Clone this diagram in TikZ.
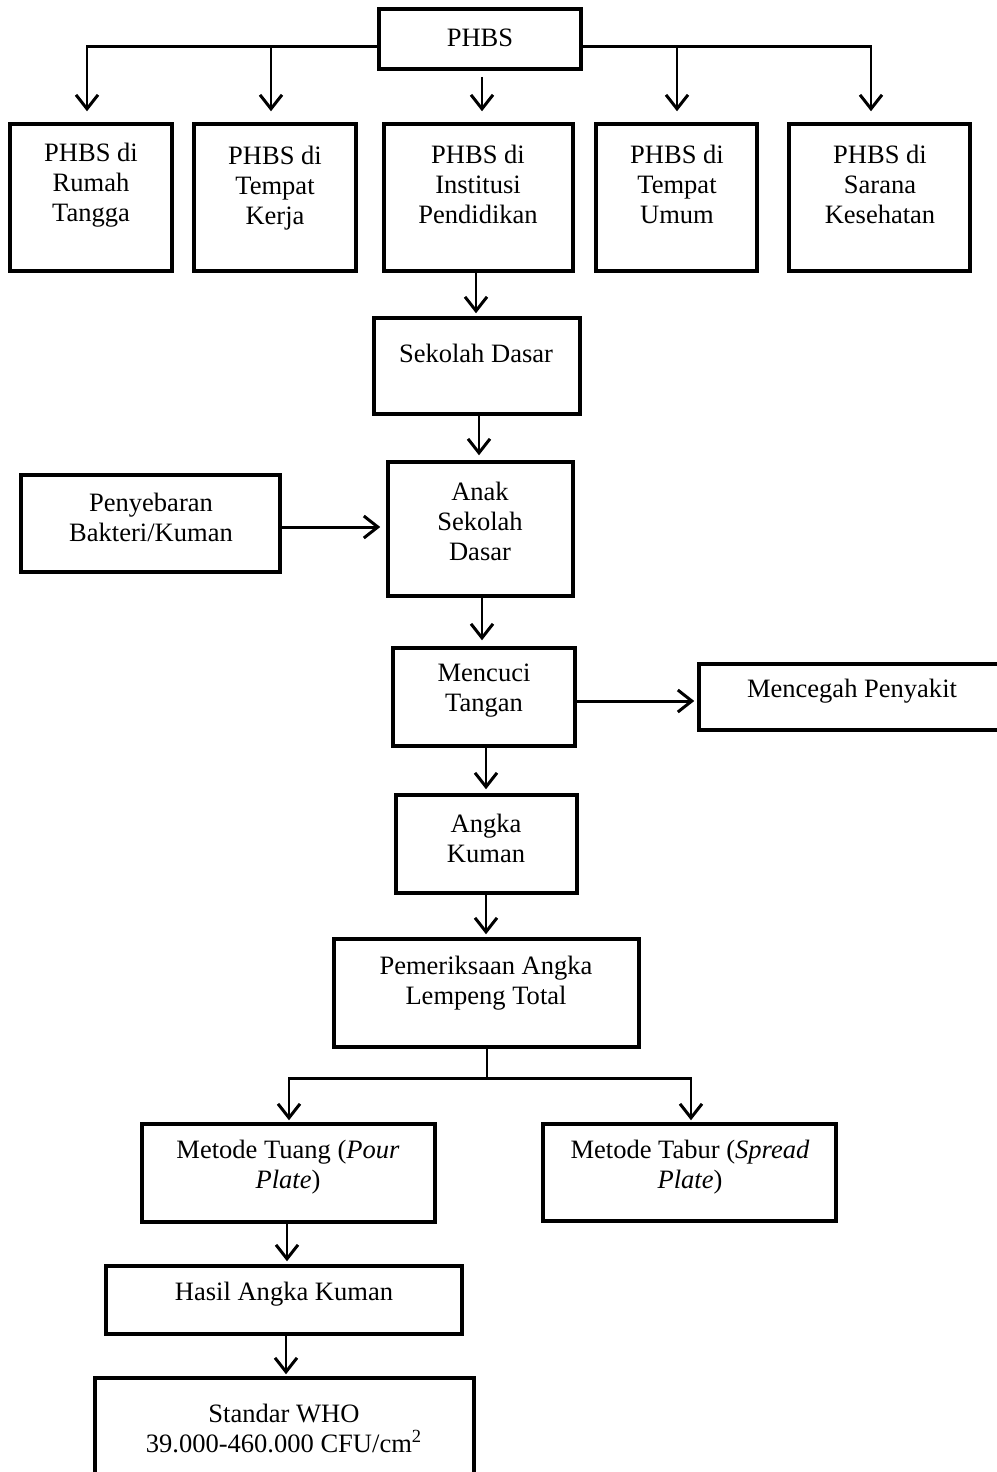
\documentclass[tikz,border=0pt]{standalone}
\usepackage{fontspec}
\setmainfont{Liberation Serif}
\usetikzlibrary{arrows.meta,calc}
\newcommand\mkbox[5]{\node[box, minimum width={(#4-#2)*0.02cm}, minimum height={(#5-#3)*0.02cm}] (#1) at ({(#2+#4)/2},{(#3+#5)/2}) {};}
\begin{document}
\begin{tikzpicture}[x=0.02cm,y=-0.02cm,
  box/.style={draw, line width=2pt, inner sep=0pt},
  txt/.style={align=center, font=\fontsize{15.1pt}{17.1pt}\selectfont, inner sep=0pt},
  arr/.style={line width=1.7pt, -{Straight Barb[length=2.8mm,width=4.4mm]}},
  ln/.style={line width=1.7pt}]
\useasboundingbox (0,0) rectangle (997,1472);
\fill[white] (0,0) rectangle (997,1472);

% boxes
\mkbox{phbs}{379}{9}{581}{69}
\mkbox{r1}{10}{124}{172}{271}
\mkbox{r2}{194}{124}{356}{271}
\mkbox{r3}{384}{124}{573}{271}
\mkbox{r4}{596}{124}{757}{271}
\mkbox{r5}{789}{124}{970}{271}
\mkbox{sd}{374}{318}{580}{414}
\mkbox{anak}{388}{462}{573}{596}
\mkbox{peny}{21}{475}{280}{572}
\mkbox{mc}{393}{648}{575}{746}
\mkbox{mp}{699}{664}{1000}{730}
\mkbox{ak}{396}{795}{577}{893}
\mkbox{pem}{334}{939}{639}{1047}
\mkbox{tuang}{142}{1124}{435}{1222}
\mkbox{tabur}{543}{1124}{836}{1221}
\mkbox{hasil}{106}{1266}{462}{1334}
\mkbox{who}{95}{1378}{474}{1480}

% texts
\node[txt] (tphbs) at (480,38) {PHBS};
\node[txt] (t1) at (91,185) {PHBS di\\Rumah\\Tangga};
\node[txt] (t2) at (275,188) {PHBS di\\Tempat\\Kerja};
\node[txt] (t3) at (478,184) {PHBS di\\Institusi\\Pendidikan};
\node[txt] (t4) at (677,184) {PHBS di\\Tempat\\Umum};
\node[txt] (t5) at (880,184) {PHBS di\\Sarana\\Kesehatan};
\node[txt] (tsd) at (476,353) {Sekolah Dasar};
\node[txt] (tanak) at (480,521) {Anak\\Sekolah\\Dasar};
\node[txt] (tpeny) at (151,517) {Penyebaran\\Bakteri/Kuman};
\node[txt] (tmc) at (484,691) {Mencuci\\Tangan};
\node[txt] (tmp) at (852,691) {Mencegah Penyakit};
\node[txt] (tak) at (486,838) {Angka\\Kuman};
\node[txt] (tpem) at (486,983) {Pemeriksaan Angka\\Lempeng Total};
\node[txt] (ttuang) at (288,1167) {Metode Tuang (\textit{Pour}\\\textit{Plate})};
\node[txt] (ttabur) at (690,1167) {Metode Tabur (\textit{Spread}\\\textit{Plate})};
\node[txt] (thasil) at (284,1294) {Hasil Angka Kuman};
\node[txt] (twho) at (284,1428) {Standar WHO\\39.000-460.000 CFU/cm\textsuperscript{2}};

% connectors
\draw[arr, shorten >=11*0.02cm] ($(phbs.west)+(0,7)$) -| (r1.north -| 87,0);
\draw[arr, shorten >=11*0.02cm] ($(phbs.west)+(0,7)$) -| (r2.north -| 271,0);
\draw[arr, shorten >=11*0.02cm] ($(phbs.east)+(0,7)$) -| (r4.north -| 677,0);
\draw[arr, shorten >=11*0.02cm] ($(phbs.east)+(0,7)$) -| (r5.north -| 871,0);
\draw[arr, shorten <=6*0.02cm, shorten >=11*0.02cm] (phbs.south -| 482,0) -- (r3.north -| 482,0);
\draw[arr, shorten >=3*0.02cm] (r3.south -| 476,0) -- (sd.north -| 476,0);
\draw[arr, shorten >=5*0.02cm] (sd.south -| 479,0) -- (anak.north -| 479,0);
\draw[arr, shorten >=6*0.02cm] (peny.east |- 0,527) -- (anak.west |- 0,527);
\draw[arr, shorten >=6*0.02cm] (anak.south -| 482,0) -- (mc.north -| 482,0);
\draw[arr, shorten >=3*0.02cm] (mc.east |- 0,701) -- (mp.west |- 0,701);
\draw[arr, shorten >=4*0.02cm] (mc.south -| 486,0) -- (ak.north -| 486,0);
\draw[arr, shorten >=3*0.02cm] (ak.south -| 486,0) -- (pem.north -| 486,0);
\coordinate (j) at (487,1078);
\draw[ln] (pem.south -| j) -- (j);
\draw[arr, shorten >=2*0.02cm] (j) -| (tuang.north -| 289,0);
\draw[arr, shorten >=2*0.02cm] (j) -| (tabur.north -| 691,0);
\draw[arr, shorten >=3*0.02cm] (tuang.south -| 287,0) -- (hasil.north -| 287,0);
\draw[arr, shorten >=2*0.02cm] (hasil.south -| 286,0) -- (who.north -| 286,0);
\end{tikzpicture}
\end{document}
